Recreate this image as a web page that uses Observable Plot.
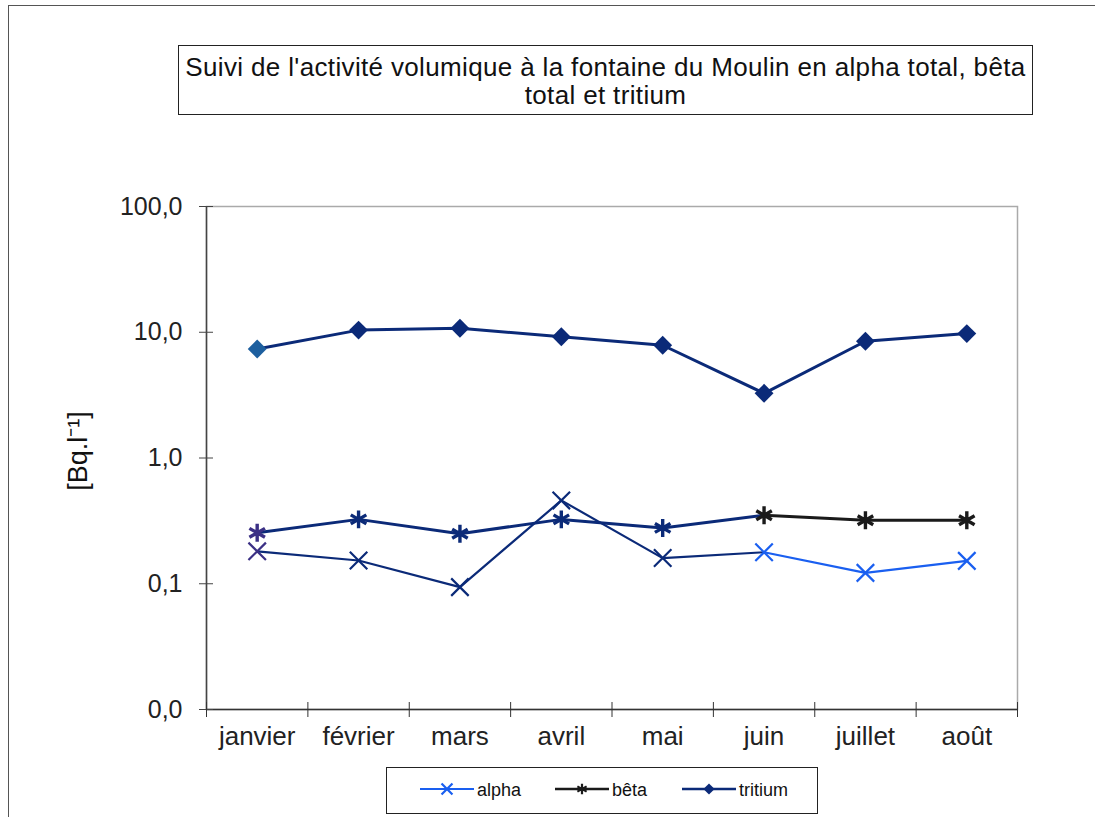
<!DOCTYPE html>
<html><head><meta charset="utf-8">
<script src="https://cdn.jsdelivr.net/npm/d3@7"></script>
<script src="https://cdn.jsdelivr.net/npm/@observablehq/plot@0.6"></script>
<style>
html,body{margin:0;padding:0;background:#fff;}
body{width:1095px;height:817px;position:relative;overflow:hidden;font-family:Arial,"Liberation Sans",sans-serif;}
#outer{position:absolute;left:8px;top:5px;width:1100px;height:830px;border-left:1.5px solid #555;border-top:1.5px solid #555;}
#title{position:absolute;left:178px;top:45px;width:855px;height:70px;border:1.5px solid #222;box-sizing:border-box;text-align:center;font-size:26px;letter-spacing:0.35px;line-height:28px;padding-top:7px;color:#111;}
#chart{position:absolute;left:0;top:150px;}
#legend{position:absolute;left:386px;top:767px;width:432px;height:47px;border:1.5px solid #222;box-sizing:border-box;}
</style></head>
<body>
<div id="outer"></div>
<div id="title">Suivi de l'activité volumique à la fontaine du Moulin en alpha total, bêta<br>total et tritium</div>
<div id="chart"></div>
<div id="legend"></div>
<script>
const months = ["janvier","février","mars","avril","mai","juin","juillet","août"];
const alpha = [0.181,0.153,0.094,0.46,0.160,0.178,0.122,0.152];
const beta = [0.254,0.325,0.250,0.325,0.278,0.351,0.320,0.320];
const tritium = [7.36,10.4,10.76,9.2,7.88,3.27,8.48,9.76];
const seriesNames = ["alpha","bêta","tritium"];
const yTicks = [0.01,0.1,1,10,100];
const yLabel = "[Bq.l⁻¹]";

const NAVY = "#0b2a78", BLUE = "#1a5ff0", BLACK = "#1a1a1a", PURPLE = "#3b3085", STEEL = "#1d5f9f";
const fmt = v => d3.format(".1f")(v).replace(".", ",");
const X = (d, i) => i;
const Y = d => d;

const chart = Plot.plot({
  width: 1095, height: 610,
  marginLeft: 206, marginRight: 78, marginTop: 56, marginBottom: 51,
  style: {fontFamily: "Arial, 'Liberation Sans', sans-serif", color: "#222", background: "transparent"},
  x: {type: "linear", domain: [-0.5, 7.5], axis: null},
  y: {type: "log", domain: [0.01, 100], axis: null},
  color: {type: "identity"},
  marks: [
    Plot.frame({stroke: "#aaa", strokeWidth: 1.5}),
    Plot.ruleY([0.01], {stroke: "#333", strokeWidth: 1.5}),
    Plot.ruleX([-0.5], {stroke: "#444", strokeWidth: 1.5}),
    Plot.axisY({ticks: yTicks, tickFormat: fmt, tickSize: 0, tickPadding: 24, fontSize: 25, label: null}),
    Plot.axisY({ticks: yTicks, tickFormat: () => "", tickSize: 14, dx: 7, label: null, stroke: "#444"}),
    Plot.axisX({ticks: d3.range(months.length), tickFormat: i => months[i], tickSize: 0, tickPadding: 17, fontSize: 26, label: null}),
    Plot.axisX({ticks: d3.range(-0.5, months.length, 1), tickFormat: () => "", tickSize: 15, dy: -7, label: null, stroke: "#333"}),
    Plot.text([yLabel], {frameAnchor: "left", textAnchor: "middle", dx: -128, dy: -7, rotate: -90, fontSize: 27, fill: "#111"}),
    Plot.line(tritium, {x: X, y: Y, z: () => "t", stroke: NAVY, strokeWidth: 3}),
    Plot.line(beta, {x: X, y: Y, z: () => "b", stroke: (d, i) => i < 5 ? NAVY : BLACK, strokeWidth: 3}),
    Plot.line(alpha, {x: X, y: Y, z: () => "a", stroke: (d, i) => i < 5 ? NAVY : BLUE, strokeWidth: 2.2}),
    Plot.dot(tritium, {x: X, y: Y, symbol: "diamond2", r: 8.5, fill: (d, i) => i === 0 ? STEEL : NAVY, stroke: "none"}),
    Plot.dot(beta, {x: X, y: Y, symbol: "asterisk", r: 8.5, stroke: (d, i) => i === 0 ? PURPLE : i < 5 ? NAVY : BLACK, strokeWidth: 3.4}),
    Plot.dot(alpha, {x: X, y: Y, symbol: "times", r: 8, stroke: (d, i) => i === 0 ? PURPLE : i < 5 ? NAVY : BLUE, strokeWidth: 2.2})
  ]
});
document.getElementById("chart").appendChild(chart);

// legend
const legendItems = [
  {name: seriesNames[0], color: BLUE, symbol: d3.symbolTimes, fill: false, w: 2},
  {name: seriesNames[1], color: BLACK, symbol: d3.symbolAsterisk, fill: false, w: 2.5},
  {name: seriesNames[2], color: NAVY, symbol: d3.symbolDiamond2, fill: true, w: 2.5}
];
const lsvg = d3.select("#legend").append("svg").attr("width", 430).attr("height", 45)
  .style("font-family", "Arial, 'Liberation Sans', sans-serif");
const starts = [33, 168, 295];
legendItems.forEach((it, k) => {
  const g = lsvg.append("g").attr("transform", `translate(${starts[k]},21)`);
  g.append("line").attr("x1", 0).attr("x2", 54).attr("stroke", it.color).attr("stroke-width", it.w);
  g.append("path").attr("transform", "translate(27,0)")
    .attr("d", d3.symbol(it.symbol, 80)())
    .attr("fill", it.fill ? it.color : "none").attr("stroke", it.fill ? "none" : it.color).attr("stroke-width", 2.2);
  g.append("text").attr("x", 57).attr("y", 7).attr("font-size", 18).attr("fill", "#111").text(it.name);
});
</script>
</body></html>
